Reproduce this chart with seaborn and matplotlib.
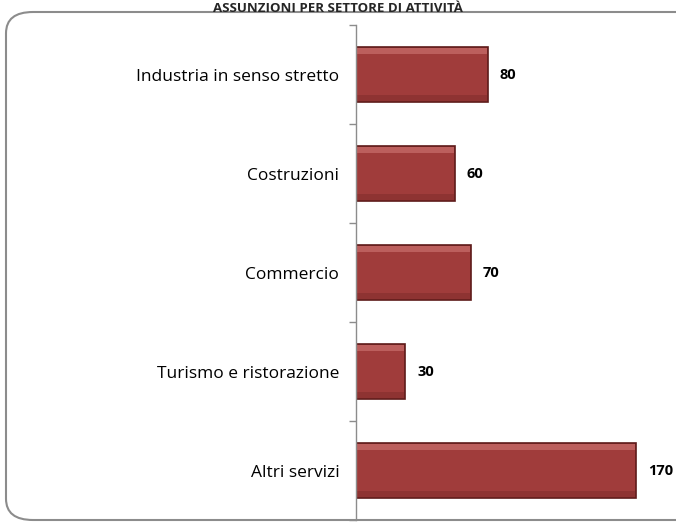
import pandas as pd
import numpy as np
import seaborn as sns
import matplotlib.pyplot as plt
from matplotlib.patches import FancyBboxPatch

# Data ---------------------------------------------------------------------
settori = ["Industria in senso stretto", "Costruzioni", "Commercio",
           "Turismo e ristorazione", "Altri servizi"]
assunzioni = [80, 60, 70, 30, 170]

df = pd.DataFrame({"settore": settori, "assunzioni": assunzioni})

# Figure -------------------------------------------------------------------
sns.set_theme(style="white")
plt.rcParams['font.family'] = ['Open Sans', 'DejaVu Sans']

fig = plt.figure(figsize=(6.76, 5.32), dpi=100)

# rounded frame around the chart
frame = FancyBboxPatch((6 / 676, 12 / 532), 700 / 676, 508 / 532,
                       boxstyle="round,pad=0,rounding_size=0.04",
                       transform=fig.transFigure, fill=False,
                       edgecolor="#8c8c8c", linewidth=1.5, clip_on=False)
fig.patches.append(frame)

ax = fig.add_axes([356 / 676, 12 / 532, 320 / 676, 495 / 532])
sns.barplot(data=df, x="assunzioni", y="settore", orient="h", ax=ax,
            color="#a03c3b", width=0.56, edgecolor="#5e1b1a", linewidth=1.2,
            saturation=1)

# soft bevel: lighter strip along the top, darker along the bottom
for p in ax.patches[:len(assunzioni)]:
    x0, y0 = p.get_x(), p.get_y()
    w, h = p.get_width(), p.get_height()
    ax.add_patch(plt.Rectangle((x0 + 0.8, y0 + h * 0.03), w - 1.6, h * 0.10,
                               color="#e08a88", alpha=0.45, lw=0))
    ax.add_patch(plt.Rectangle((x0 + 0.8, y0 + h * 0.87), w - 1.6, h * 0.10,
                               color="#6e2322", alpha=0.35, lw=0))

ax.set_xlim(0, 194)
ax.set_ylim(4.5, -0.5)
ax.set_xlabel("")
ax.set_ylabel("")
ax.set_xticks([])
ax.set_yticks(np.arange(-0.5, 5, 1), minor=True)
ax.tick_params(axis="y", which="major", length=0, labelsize=12.5,
               pad=12, labelcolor="#000000")
ax.tick_params(axis="y", which="minor", left=True, length=5,
               color="#8c8c8c", width=1)
for s in ["top", "right", "bottom"]:
    ax.spines[s].set_visible(False)
ax.spines["left"].set_color("#8c8c8c")
ax.spines["left"].set_linewidth(1)
ax.patch.set_alpha(0)

for i, v in enumerate(assunzioni):
    ax.text(v + 7, i, str(v), va="center", ha="left", fontsize=10.5,
            fontweight="bold", color="#000000", clip_on=False)

fig.text(338 / 676, 1 - 2 / 532, "ASSUNZIONI PER SETTORE DI ATTIVITÀ",
         ha="center", va="top", fontsize=9.5, fontweight="bold")

fig.savefig("out.png", dpi=100)
